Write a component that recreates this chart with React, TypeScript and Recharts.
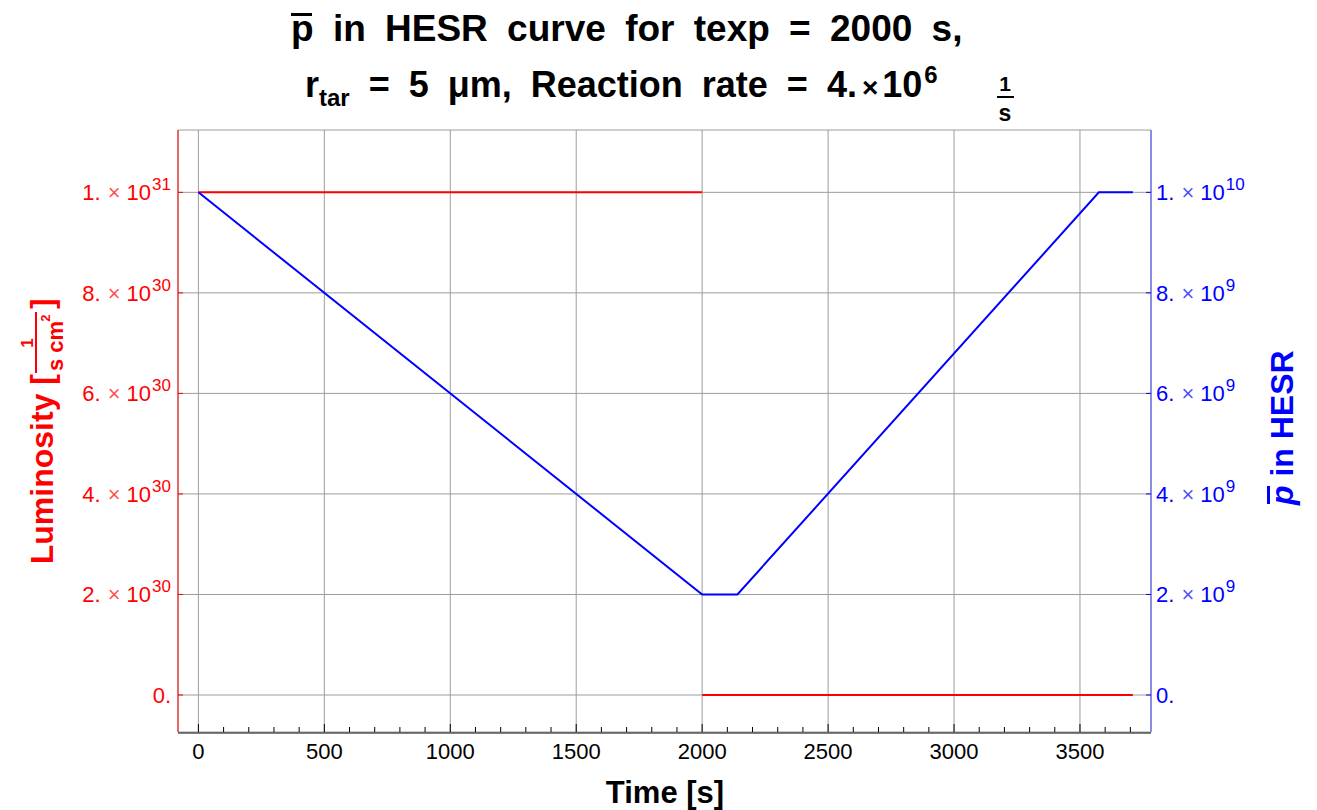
import React from "react";
import { LineChart, Line, XAxis, YAxis, CartesianGrid } from "recharts";

// luminosity while the target is on, then off
const lumTimesOn = [0, 2000];
const lumValuesOn = [1e31, 1e31];
const lumTimesOff = [2000, 3710];
const lumValuesOff = [0, 0];

// antiprotons stored in HESR
const pbarTimes = [0, 2000, 2140, 3575, 3710];
const pbarValues = [1e10, 2e9, 2e9, 1e10, 1e10];

const timeTicks = [0, 500, 1000, 1500, 2000, 2500, 3000, 3500];
const minorTicks = Array.from({ length: 38 }, (_, i) => i * 100);
const lumTicks = [0, 2e30, 4e30, 6e30, 8e30, 1e31];
const pbarTicks = [0, 2e9, 4e9, 6e9, 8e9, 1e10];

const timeDomain: [number, number] = [-81, 3782];
const lumDomain: [number, number] = [-0.736e30, 1.124e31];
const pbarDomain: [number, number] = [-0.736e9, 1.124e10];

const FONT = "'Liberation Sans', Arial, sans-serif";
const RED = "#ff0000";
const BLUE = "#0000ff";

const rows = (ts: number[], vs: number[]) => ts.map((t, i) => ({ t, v: vs[i] }));
const lumOn = rows(lumTimesOn, lumValuesOn);
const lumOff = rows(lumTimesOff, lumValuesOff);
const pbar = rows(pbarTimes, pbarValues);

function sci(v: number) {
  if (v === 0) return { m: "0", e: null as number | null };
  const e = Math.floor(Math.log10(v) + 1e-9);
  return { m: String(Math.round(v / Math.pow(10, e))), e };
}

function SciLabel({ v }: { v: number }) {
  const { m, e } = sci(v);
  if (e === null) return <tspan>{m}.</tspan>;
  return (
    <>
      <tspan>{m}.</tspan>
      <tspan fontSize={22} dx={7} fillOpacity={0.7}>×</tspan>
      <tspan dx={6}>10</tspan>
      <tspan fontSize={17} dx={1} dy={-10}>{e}</tspan>
    </>
  );
}

function LeftTick(p: any) {
  return (
    <g>
      <line x1={p.x} x2={p.x + 5} y1={p.y} y2={p.y} stroke={RED} />
      <text x={p.x - 7} y={p.y + 8} textAnchor="end" fill={RED} fontFamily={FONT} fontSize={22}>
        <SciLabel v={p.payload.value} />
      </text>
    </g>
  );
}

function RightTick(p: any) {
  return (
    <g>
      <line x1={p.x - 5} x2={p.x} y1={p.y} y2={p.y} stroke={BLUE} />
      <text x={p.x + 5} y={p.y + 8} textAnchor="start" fill={BLUE} fontFamily={FONT} fontSize={22}>
        <SciLabel v={p.payload.value} />
      </text>
    </g>
  );
}

function TimeTick(p: any) {
  return (
    <text x={p.x} y={p.y + 26} textAnchor="middle" fill="#000" fontFamily={FONT} fontSize={22}>
      {p.payload.value}
    </text>
  );
}

// short inward marks on the time axis, longer on every 500 s
function MinorTick(p: any) {
  const len = p.payload.value % 500 === 0 ? 8 : 5;
  return <line x1={p.x} x2={p.x} y1={732} y2={732 - len} stroke="#000" strokeWidth={1} />;
}

export default function App() {
  return (
    <div style={{ position: "absolute", left: 0, top: 0, background: "#fff" }}>
      <LineChart width={1317} height={810} margin={{ top: 130, right: 0, bottom: 0, left: 0 }}>
        <CartesianGrid xAxisId="time" yAxisId="lum" stroke="#9c9c9c" strokeWidth={1} />
        <XAxis xAxisId="time" type="number" dataKey="t" domain={timeDomain} allowDataOverflow
          ticks={timeTicks} height={77} tickSize={0} tickMargin={0} tickLine={false}
          axisLine={{ stroke: "#000" }} tick={TimeTick} />
        <XAxis xAxisId="minor" type="number" dataKey="t" domain={timeDomain} allowDataOverflow
          ticks={minorTicks} interval={0} height={1} tickSize={0} tickMargin={0} axisLine={false}
          tickLine={false} tick={MinorTick} />
        <XAxis xAxisId="top" orientation="top" type="number" dataKey="t" domain={timeDomain}
          allowDataOverflow height={0} tick={false} tickLine={false} axisLine={{ stroke: "#333" }} />
        <YAxis yAxisId="lum" orientation="left" type="number" domain={lumDomain} allowDataOverflow
          ticks={lumTicks} width={178} tickSize={0} tickMargin={0} tickLine={false}
          axisLine={{ stroke: RED }} tick={LeftTick} />
        <YAxis yAxisId="pbar" orientation="right" type="number" domain={pbarDomain} allowDataOverflow
          ticks={pbarTicks} width={166} tickSize={0} tickMargin={0} tickLine={false}
          axisLine={{ stroke: "#4a4aff" }} tick={RightTick} />
        <Line data={lumOn} xAxisId="time" yAxisId="lum" dataKey="v" type="linear" stroke={RED}
          strokeWidth={2} dot={false} isAnimationActive={false} />
        <Line data={lumOff} xAxisId="time" yAxisId="lum" dataKey="v" type="linear" stroke={RED}
          strokeWidth={2} dot={false} isAnimationActive={false} />
        <Line data={pbar} xAxisId="time" yAxisId="pbar" dataKey="v" type="linear" stroke={BLUE}
          strokeWidth={2} dot={false} isAnimationActive={false} />

        {/* title */}
        <g fontFamily={FONT} fontWeight="bold" fill="#000">
          <text x={291} y={41} fontSize={37} wordSpacing={9}>
            p in HESR curve for texp = 2000 s,
          </text>
          <rect x={291} y={13} width={21} height={3} fill="#000" />
          <text x={305} y={97} fontSize={36} wordSpacing={9}>
            <tspan>r</tspan>
            <tspan fontSize={24} dy={9}>tar</tspan>
            <tspan dy={-9}> = 5 μm, Reaction rate = 4.</tspan>
            <tspan fontSize={28} dx={5}>×</tspan>
            <tspan dx={4}>10</tspan>
            <tspan fontSize={24} dx={2} dy={-14}>6</tspan>
          </text>
          <text x={1005} y={91} fontSize={21} textAnchor="middle">1</text>
          <rect x={997} y={96} width={17} height={2} fill="#000" />
          <text x={1005} y={121} fontSize={23} textAnchor="middle">s</text>
        </g>

        {/* axis titles */}
        <text x={665} y={803} textAnchor="middle" fontFamily={FONT} fontWeight="bold" fontSize={31} fill="#000">
          Time [s]
        </text>
        <g transform="translate(53, 430) rotate(-90)" fontFamily={FONT} fontWeight="bold" fill={RED}>
          <text x={56} y={0} fontSize={32} textAnchor="end">Luminosity [</text>
          <text x={87} y={-20} fontSize={17} textAnchor="middle">1</text>
          <rect x={57} y={-18} width={61} height={2} fill={RED} />
          <text x={84} y={10} fontSize={22} textAnchor="middle">s cm</text>
          <text x={112} y={-3} fontSize={13} textAnchor="middle">2</text>
          <text x={121} y={0} fontSize={32}>]</text>
        </g>
        <g transform="translate(1293, 425) rotate(-90)" fontFamily={FONT} fontWeight="bold" fill={BLUE}>
          <text x={-80} y={0} fontSize={32}>
            <tspan fontStyle="italic">p</tspan> in HESR
          </text>
          <rect x={-79} y={-26} width={18} height={3} fill={BLUE} />
        </g>
      </LineChart>
    </div>
  );
}
